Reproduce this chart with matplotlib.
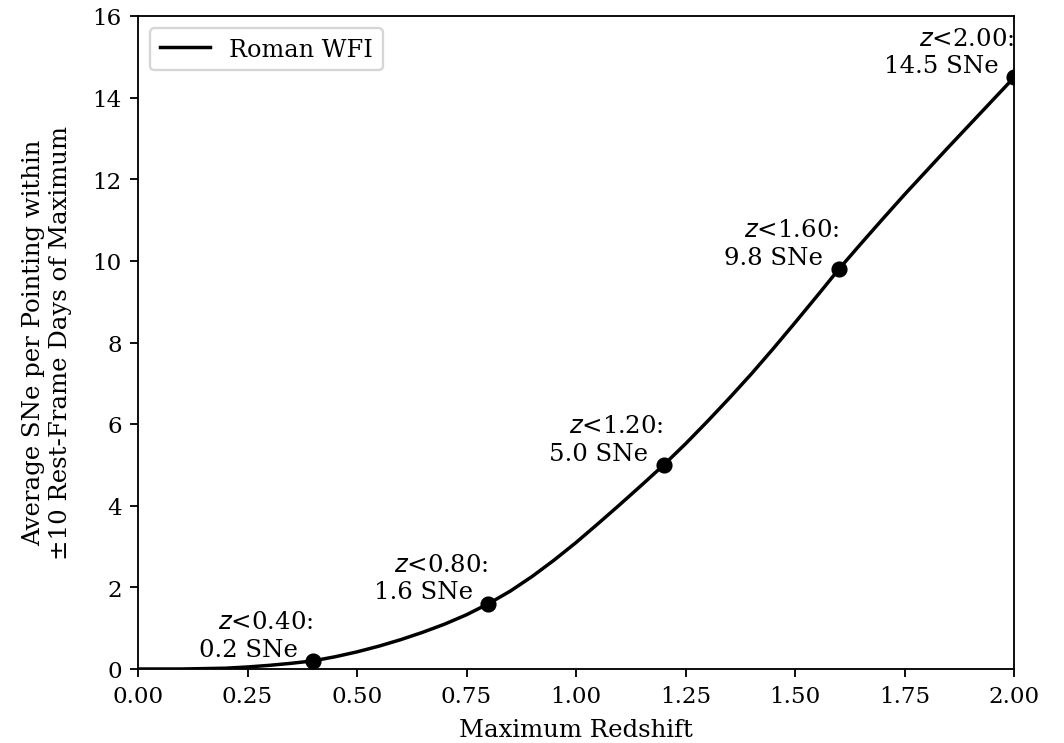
import matplotlib
matplotlib.use("Agg")
import matplotlib.pyplot as plt

plt.rcParams['font.family'] = 'DejaVu Serif'
plt.rcParams['font.size'] = 10.6
plt.rcParams['xtick.labelsize'] = 10
plt.rcParams['ytick.labelsize'] = 10

# curve
redshift = [0.00, 0.05, 0.10, 0.15, 0.20, 0.25, 0.30, 0.35, 0.40, 0.45,
            0.50, 0.55, 0.60, 0.65, 0.70, 0.75, 0.80, 0.85, 0.90, 0.95,
            1.00, 1.05, 1.10, 1.15, 1.20, 1.25, 1.30, 1.35, 1.40, 1.45,
            1.50, 1.55, 1.60, 1.65, 1.70, 1.75, 1.80, 1.85, 1.90, 1.95, 2.00]
n_sne = [0.00, 0.00, 0.00, 0.01, 0.02, 0.05, 0.09, 0.14, 0.20, 0.30,
         0.42, 0.56, 0.72, 0.90, 1.10, 1.33, 1.60, 1.91, 2.27, 2.67,
         3.10, 3.56, 4.03, 4.51, 5.00, 5.52, 6.07, 6.64, 7.23, 7.85,
         8.49, 9.14, 9.80, 10.42, 11.03, 11.63, 12.21, 12.79, 13.36, 13.93, 14.50]

# marked points
z_marks = [0.4, 0.8, 1.2, 1.6, 2.0]
n_marks = [0.2, 1.6, 5.0, 9.8, 14.5]

fig = plt.figure(figsize=(6.41, 4.48), dpi=166)
ax = fig.add_axes([0.1297, 0.0995, 0.8233, 0.8777])

ax.plot(redshift, n_sne, color='k', lw=1.5, label='Roman WFI')
ax.plot(z_marks, n_marks, 'o', color='k', ms=6)
for z, n in zip(z_marks, n_marks):
    ax.text(z, n, "$z$<%.2f:\n%.1f SNe  " % (z, n), ha='right', va='bottom',
            linespacing=1.25)

ax.set_xlim(0, 2)
ax.set_ylim(0, 16)
ax.set_xlabel('Maximum Redshift', labelpad=5)
ax.set_ylabel('Average SNe per Pointing within\n\u00b110 Rest-Frame Days of Maximum',
              labelpad=9)
ax.legend(loc='upper left', handlelength=2.1, fontsize=10.4)

plt.savefig('out.png', dpi=166)
